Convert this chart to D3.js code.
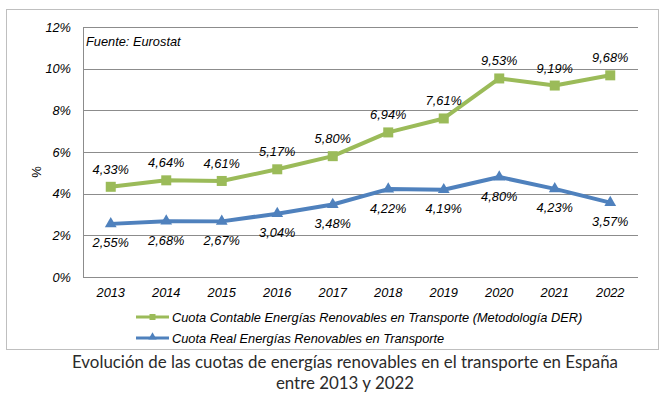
<!DOCTYPE html>
<html lang="es">
<head>
    <meta charset="UTF-8">
    <title>Cuotas de energías renovables en transporte</title>
    <script src="https://d3js.org/d3.v7.min.js"></script>
    <style>
        body { margin: 0; background: #fff; }
        text { font-family: "Liberation Sans", Arial, sans-serif; }
        .axis-label { font-style: italic; font-size: 12.8px; fill: #000; }
        .caption { font-family: Lato, "Open Sans", sans-serif; font-size: 16.9px; fill: #2b2b2b; }
    </style>
</head>
<body>
    <div id="chart"></div>
    <script>
        const width = 669;
        const height = 397;

        // Data
        const years = ["2013", "2014", "2015", "2016", "2017", "2018", "2019", "2020", "2021", "2022"];
        const contable = [4.33, 4.64, 4.61, 5.17, 5.80, 6.94, 7.61, 9.53, 9.19, 9.68];
        const real = [2.55, 2.68, 2.67, 3.04, 3.48, 4.22, 4.19, 4.80, 4.23, 3.57];
        const yTicks = [0, 2, 4, 6, 8, 10, 12];
        const seriesNames = [
            "Cuota Contable Energías Renovables en Transporte (Metodología DER)",
            "Cuota Real Energías Renovables en Transporte"
        ];
        const captionLines = [
            "Evolución de las cuotas de energías renovables en el transporte en España",
            "entre 2013 y 2022"
        ];

        const green = "#9bbb59";
        const blue = "#4f81bd";

        const svg = d3.select("#chart")
            .append("svg")
            .attr("width", width)
            .attr("height", height);

        // outer frame
        svg.append("rect")
            .attr("x", 6.5).attr("y", 9.5)
            .attr("width", 652).attr("height", 340)
            .attr("fill", "none")
            .attr("stroke", "#bfbfbf")
            .attr("stroke-width", 1);

        const plot = { left: 83, right: 638, top: 27, bottom: 277 };

        const x = d3.scalePoint()
            .domain(years)
            .range([plot.left, plot.right])
            .padding(0.5);

        const y = d3.scaleLinear()
            .domain([0, 12])
            .range([plot.bottom, plot.top]);

        const fmt = v => d3.format(".2f")(v).replace(".", ",") + "%";

        // gridlines
        svg.append("g")
            .selectAll("line")
            .data(yTicks)
            .enter().append("line")
            .attr("x1", plot.left).attr("x2", plot.right)
            .attr("y1", d => Math.round(y(d)) + 0.5)
            .attr("y2", d => Math.round(y(d)) + 0.5)
            .attr("stroke", "#8c8c8c")
            .attr("stroke-width", 1);

        // left axis line
        svg.append("line")
            .attr("x1", plot.left + 0.5).attr("x2", plot.left + 0.5)
            .attr("y1", plot.top).attr("y2", plot.bottom + 0.5)
            .attr("stroke", "#8c8c8c");

        // y tick labels
        svg.append("g")
            .selectAll("text")
            .data(yTicks)
            .enter().append("text")
            .attr("class", "axis-label")
            .attr("x", 71)
            .attr("y", d => y(d) + 4.5)
            .attr("text-anchor", "end")
            .text(d => d + "%");

        // y title
        svg.append("text")
            .attr("transform", "translate(41,172) rotate(-90)")
            .attr("text-anchor", "middle")
            .attr("font-size", 13)
            .text("%");

        // x labels
        svg.append("g")
            .selectAll("text")
            .data(years)
            .enter().append("text")
            .attr("class", "axis-label")
            .attr("x", d => x(d))
            .attr("y", 296.5)
            .attr("text-anchor", "middle")
            .text(d => d);

        svg.append("text")
            .attr("class", "axis-label")
            .attr("x", 86)
            .attr("y", 46)
            .text("Fuente: Eurostat");

        const line = d3.line()
            .x((d, i) => x(years[i]))
            .y(d => y(d));

        // green series
        svg.append("path")
            .datum(contable)
            .attr("d", line)
            .attr("fill", "none")
            .attr("stroke", green)
            .attr("stroke-width", 4)
            .attr("stroke-linejoin", "round");

        svg.append("g")
            .selectAll("rect")
            .data(contable)
            .enter().append("rect")
            .attr("x", (d, i) => x(years[i]) - 5)
            .attr("y", d => y(d) - 5)
            .attr("width", 10)
            .attr("height", 10)
            .attr("fill", green);

        svg.append("g")
            .selectAll("text")
            .data(contable)
            .enter().append("text")
            .attr("class", "axis-label")
            .attr("x", (d, i) => x(years[i]))
            .attr("y", d => y(d) - 13)
            .attr("text-anchor", "middle")
            .text(fmt);

        // blue series
        svg.append("path")
            .datum(real)
            .attr("d", line)
            .attr("fill", "none")
            .attr("stroke", blue)
            .attr("stroke-width", 4)
            .attr("stroke-linejoin", "round");

        const tri = d3.symbol().type(d3.symbolTriangle).size(60);
        svg.append("g")
            .selectAll("path")
            .data(real)
            .enter().append("path")
            .attr("d", tri)
            .attr("transform", (d, i) => `translate(${x(years[i])},${y(d)})`)
            .attr("fill", blue);

        svg.append("g")
            .selectAll("text")
            .data(real)
            .enter().append("text")
            .attr("class", "axis-label")
            .attr("x", (d, i) => x(years[i]))
            .attr("y", d => y(d) + 23.5)
            .attr("text-anchor", "middle")
            .text(fmt);

        // legend
        const legend = svg.append("g");
        const legendRows = [
            { name: seriesNames[0], color: green, marker: "square" },
            { name: seriesNames[1], color: blue, marker: "triangle" }
        ];
        legendRows.forEach((r, i) => {
            const ly = 317 + i * 21;
            legend.append("line")
                .attr("x1", 136).attr("x2", 169)
                .attr("y1", ly).attr("y2", ly)
                .attr("stroke", r.color)
                .attr("stroke-width", 3);
            if (r.marker === "square") {
                legend.append("rect")
                    .attr("x", 149.5).attr("y", ly - 3)
                    .attr("width", 6).attr("height", 6)
                    .attr("fill", r.color);
            } else {
                legend.append("path")
                    .attr("d", d3.symbol().type(d3.symbolTriangle).size(30))
                    .attr("transform", `translate(152.5,${ly - 1})`)
                    .attr("fill", r.color);
            }
            legend.append("text")
                .attr("class", "axis-label")
                .attr("x", 172)
                .attr("y", ly + 4.5)
                .text(r.name);
        });

        // caption
        svg.append("g")
            .selectAll("text")
            .data(captionLines)
            .enter().append("text")
            .attr("class", "caption")
            .attr("x", 345)
            .attr("y", (d, i) => 368 + i * 21)
            .attr("text-anchor", "middle")
            .text(d => d);
    </script>
</body>
</html>
